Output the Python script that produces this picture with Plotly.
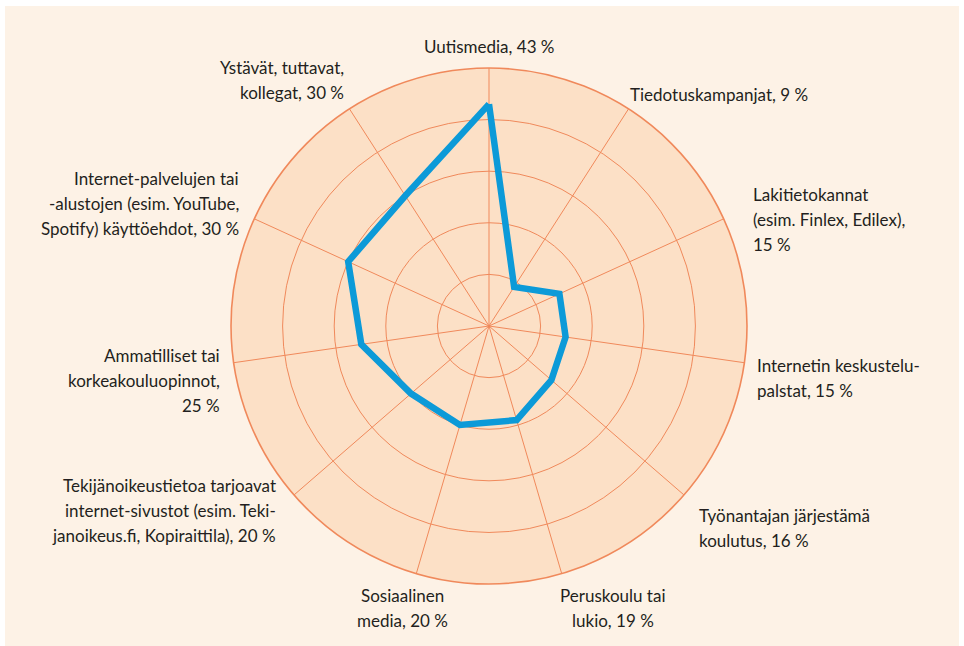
import plotly.graph_objects as go

COLOR_PAGE = "#FDF2E6"
COLOR_POLAR = "#FCE0C6"
COLOR_GRID = "#F0895B"
COLOR_LINE = "#0C9AD8"
COLOR_TEXT = "#231F20"
FONT = "Lato, sans-serif"

W, H = 964, 646

categories = [
    "Uutismedia",
    "Tiedotuskampanjat",
    "Lakitietokannat",
    "Internetin keskustelupalstat",
    "Työnantajan järjestämä koulutus",
    "Peruskoulu tai lukio",
    "Sosiaalinen media",
    "Tekijänoikeustietoa tarjoavat internet-sivustot",
    "Ammatilliset tai korkeakouluopinnot",
    "Internet-palvelujen tai -alustojen käyttöehdot",
    "Ystävät, tuttavat, kollegat",
]
values = [43, 9, 15, 15, 16, 19, 20, 20, 25, 30, 30]

labels = [
    "Uutismedia, 43 %",
    "Tiedotuskampanjat, 9 %",
    "Lakitietokannat<br>(esim. Finlex, Edilex),<br>15 %",
    "Internetin keskustelu-<br>palstat, 15 %",
    "Työnantajan järjestämä<br>koulutus, 16 %",
    "Peruskoulu tai<br>lukio, 19 %",
    "Sosiaalinen<br>media, 20 %",
    "Tekijänoikeustietoa tarjoavat<br>internet-sivustot (esim. Teki-<br>janoikeus.fi, Kopiraittila), 20 %",
    "Ammatilliset tai<br>korkeakouluopinnot,<br>25 %",
    "Internet-palvelujen tai<br>-alustojen (esim. YouTube,<br>Spotify) käyttöehdot, 30 %",
    "Ystävät, tuttavat,<br>kollegat, 30 %",
]

# label block anchor in pixels: (x, y centre, xanchor)
label_pos = [
    (489, 46, "center"),
    (628, 94, "left"),
    (751, 220, "left"),
    (755, 378, "left"),
    (697, 528, "left"),
    (613, 608, "center"),
    (402, 608, "center"),
    (278, 510, "right"),
    (222, 380, "right"),
    (241, 203, "right"),
    (346, 80, "right"),
]
LINE_GAP = 25

cx, cy, rad = 489, 326, 258

fig = go.Figure(
    go.Scatterpolar(
        r=values + values[:1],
        theta=categories + categories[:1],
        mode="lines",
        line=dict(color=COLOR_LINE, width=6.5),
        hoverinfo="skip",
    )
)

fig.add_shape(
    type="rect",
    xref="paper",
    yref="paper",
    x0=5 / W,
    x1=959 / W,
    y0=0,
    y1=1 - 6 / H,
    fillcolor=COLOR_PAGE,
    line_width=0,
    layer="below",
)

for text, (px_, py_, xa) in zip(labels, label_pos):
    lines = text.split("<br>")
    n = len(lines)
    for k, line in enumerate(lines):
        ly = py_ + (k - (n - 1) / 2) * LINE_GAP
        fig.add_annotation(
            text=line,
            x=px_ / W,
            y=1 - ly / H,
            xref="paper",
            yref="paper",
            xanchor=xa,
            yanchor="middle",
            showarrow=False,
            font=dict(family=FONT, size=17, color=COLOR_TEXT),
        )

fig.update_layout(
    width=W,
    height=H,
    margin=dict(l=0, r=0, t=0, b=0),
    paper_bgcolor="white",
    showlegend=False,
    polar=dict(
        domain=dict(
            x=[(cx - rad) / W, (cx + rad) / W],
            y=[1 - (cy + rad) / H, 1 - (cy - rad) / H],
        ),
        bgcolor=COLOR_POLAR,
        radialaxis=dict(
            range=[0, 50],
            dtick=10,
            showticklabels=False,
            ticks="",
            showline=False,
            gridcolor=COLOR_GRID,
            gridwidth=1.4,
        ),
        angularaxis=dict(
            rotation=90,
            direction="clockwise",
            showticklabels=False,
            ticks="",
            gridcolor=COLOR_GRID,
            gridwidth=1.4,
            linecolor=COLOR_GRID,
            linewidth=1.6,
        ),
    ),
)

fig.write_html(
    "out.html",
    config={"displayModeBar": False},
    post_script="document.body.style.margin='0';",
)
